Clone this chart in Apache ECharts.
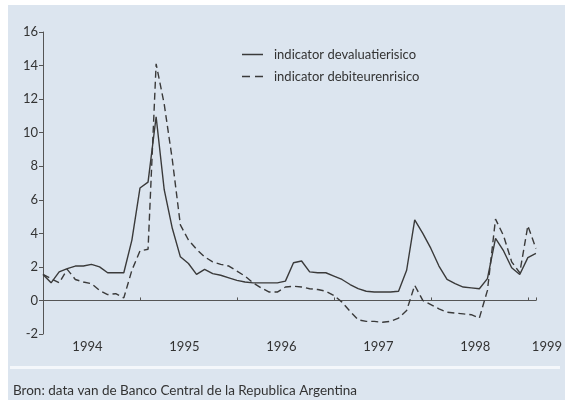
<!DOCTYPE html>
<html>
<head>
<meta charset="utf-8">
<script src="https://cdn.jsdelivr.net/npm/echarts@6/dist/echarts.min.js"></script>
<style>
  html, body { margin: 0; padding: 0; background: #ffffff; }
  #chart { width: 565px; height: 400px; }
</style>
</head>
<body>
<div id="chart"></div>
<script>
// months since Jan 1994 (0 = jan 1994, 61 = feb 1999)
const devaluatierisico = [
  1.55, 1.05, 1.7, 1.9, 2.05, 2.05, 2.15, 2.0, 1.65, 1.65, 1.65, 3.6,
  6.7, 7.05, 10.95, 6.6, 4.3, 2.6, 2.2, 1.55, 1.85, 1.6, 1.5, 1.35,
  1.2, 1.1, 1.05, 1.05, 1.05, 1.05, 1.15, 2.25, 2.35, 1.7, 1.65, 1.65,
  1.45, 1.25, 0.95, 0.7, 0.55, 0.5, 0.5, 0.5, 0.55, 1.8, 4.8, 4.0,
  3.1, 2.05, 1.25, 1.0, 0.8, 0.75, 0.7, 1.3, 3.7, 2.95, 1.95, 1.55,
  2.55, 2.8
]
const debiteurenrisico = [
  1.55, 1.3, 1.05, 1.85, 1.25, 1.1, 1.0, 0.6, 0.35, 0.4, 0.15, 1.8,
  2.95, 3.05, 14.1, 11.7, 8.4, 4.5, 3.6, 3.05, 2.6, 2.3, 2.15, 2.05,
  1.75, 1.45, 1.05, 0.75, 0.5, 0.5, 0.8, 0.85, 0.8, 0.7, 0.65, 0.55,
  0.3, -0.1, -0.65, -1.15, -1.25, -1.25, -1.3, -1.25, -1.05, -0.6, 0.9, 0.0,
  -0.25, -0.5, -0.7, -0.75, -0.8, -0.85, -1.05, 0.6, 4.85, 3.85, 2.3, 1.65,
  4.45, 3.1
]
const years = ['1994', '1995', '1996', '1997', '1998', '1999']
const seriesNames = ['indicator devaluatierisico', 'indicator debiteurenrisico']
const source = 'Bron: data van de Banco Central de la Republica Argentina'

const font = 'Lato, "DejaVu Sans", sans-serif'
const ink = '#3a3a3a'

function toPoints(values) {
  return values.map((v, i) => [i, v])
}

const myChart = echarts.init(document.getElementById('chart'), null, { renderer: 'canvas' })

const option = {
  backgroundColor: '#ffffff',
  animation: false,
  graphic: [
    {
      type: 'rect',
      z: -10,
      shape: { x: 8, y: 5, width: 557, height: 395 },
      style: { fill: '#dce5ef' }
    },
    {
      type: 'rect',
      z: -9,
      shape: { x: 10, y: 366, width: 550, height: 3 },
      style: { fill: '#f4f7fb' }
    }
  ],
  title: {
    text: source,
    left: 8,
    top: 379,
    textStyle: { fontFamily: font, fontSize: 13.5, fontWeight: 'normal', color: '#333' }
  },
  legend: {
    orient: 'vertical',
    left: 237,
    top: 43,
    itemWidth: 21,
    itemHeight: 1.5,
    itemGap: 9,
    data: [
      { name: seriesNames[0], icon: 'path://M0,0H21V1.5H0Z' },
      { name: seriesNames[1], icon: 'path://M0,0H8V1.5H0Z M13,0H21V1.5H13Z' }
    ],
    itemStyle: { color: ink },
    textStyle: { fontFamily: font, fontSize: 13, color: '#333', padding: [0, 0, 0, 6] }
  },
  grid: { left: 43, right: 22, top: 32, bottom: 66 },
  xAxis: [
    {
      type: 'value',
      min: 0,
      max: 61,
      interval: 12,
      axisLine: { onZero: true, lineStyle: { color: '#555', width: 1 } },
      axisTick: { show: true, inside: true, length: 3, lineStyle: { color: '#555' } },
      axisLabel: { show: false },
      splitLine: { show: false }
    },
    {
      type: 'value',
      position: 'bottom',
      min: 0,
      max: 61,
      interval: 0.5,
      axisLine: { show: false, onZero: false },
      axisTick: { show: false },
      splitLine: { show: false },
      axisLabel: {
        margin: 6,
        fontFamily: font,
        fontSize: 13,
        color: '#333',
        showMinLabel: true,
        showMaxLabel: true,
        formatter: (v) => {
          if (v === 61) return '{r|' + years[5] + '}'
          if ((v - 5.5) % 12 === 0) return years[(v - 5.5) / 12]
          return ''
        },
        rich: {
          r: { fontFamily: font, fontSize: 13, color: '#333', padding: [0, 0, 0, 22] }
        }
      }
    }
  ],
  yAxis: {
    type: 'value',
    min: -2,
    max: 16,
    interval: 2,
    axisLine: { show: true, lineStyle: { color: '#555', width: 1 } },
    axisTick: { show: true, length: 4, lineStyle: { color: '#555' } },
    axisLabel: { margin: 5, fontFamily: font, fontSize: 13, color: '#333' },
    splitLine: { show: false }
  },
  series: [
    {
      name: seriesNames[0],
      type: 'line',
      xAxisIndex: 0,
      data: toPoints(devaluatierisico),
      symbol: 'none',
      lineStyle: { color: ink, width: 1.4 },
      itemStyle: { color: ink }
    },
    {
      name: seriesNames[1],
      type: 'line',
      xAxisIndex: 0,
      data: toPoints(debiteurenrisico),
      symbol: 'none',
      lineStyle: { color: ink, width: 1.4, type: [7, 4] },
      itemStyle: { color: ink }
    }
  ]
}

myChart.setOption(option)
</script>
</body>
</html>
